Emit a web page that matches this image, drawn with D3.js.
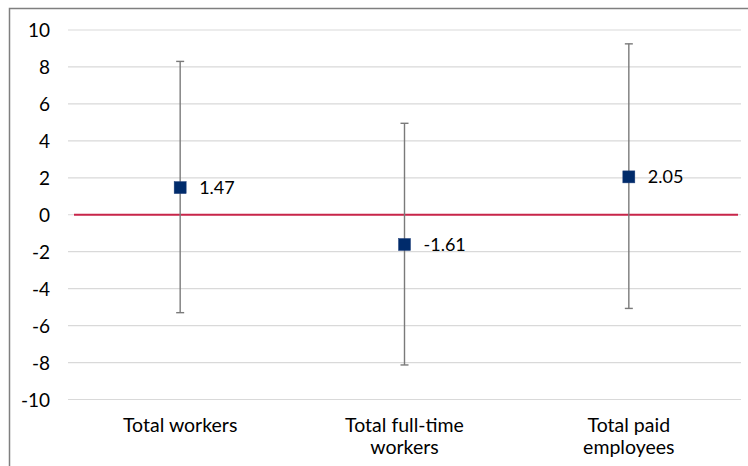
<!DOCTYPE html>
<html>
<head>
<meta charset="utf-8">
<script src="https://cdn.jsdelivr.net/npm/d3@7"></script>
<style>
  html, body { margin: 0; padding: 0; background: #fff; }
  svg { display: block; }
  text { font-family: "Lato", "Open Sans", sans-serif; fill: #000; }
</style>
</head>
<body>
<svg id="chart" width="748" height="466"></svg>
<script>
// Estimated change (percent) with 95% confidence interval
const categories = [["Total workers"], ["Total full-time", "workers"], ["Total paid", "employees"]];
const estimates = [1.47, -1.61, 2.05];
const lowerBounds = [-5.3, -8.13, -5.07];
const upperBounds = [8.3, 4.95, 9.25];
const yTicks = [-10, -8, -6, -4, -2, 0, 2, 4, 6, 8, 10];

const W = 748, H = 466;
const plot = { left: 68, right: 741, top: 30, bottom: 399.5 };

// plain hyphen for negatives
const fmtTick = d => String(d);
const fmtValue = d => d.toFixed(2);

const svg = d3.select("#chart");

// outer frame (top and left edges visible)
svg.append("path")
  .attr("d", `M9.5,${H} V8.5 H${W}`)
  .attr("fill", "none")
  .attr("stroke", "#7f7f7f")
  .attr("stroke-width", 1.5);

const x = d3.scaleBand()
  .domain(d3.range(categories.length))
  .range([plot.left, plot.right]);

const y = d3.scaleLinear()
  .domain([-10, 10])
  .range([plot.bottom, plot.top]);

// horizontal gridlines
svg.append("g")
  .selectAll("line")
  .data(yTicks)
  .join("line")
  .attr("x1", plot.left)
  .attr("x2", plot.right)
  .attr("y1", d => y(d))
  .attr("y2", d => y(d))
  .attr("stroke", "#d9d9d9")
  .attr("stroke-width", 1.2);

// y axis labels
const yAxis = d3.axisLeft(y).tickValues(yTicks).tickSize(0).tickPadding(0)
  .tickFormat(fmtTick);
const gy = svg.append("g")
  .attr("transform", `translate(50,0)`)
  .call(yAxis);
gy.select(".domain").remove();
gy.selectAll("text")
  .attr("font-family", "Lato, 'Open Sans', sans-serif")
  .attr("font-size", 19)
  .attr("fill", "#000")
  .attr("dy", "0.36em");

// zero reference line
svg.append("line")
  .attr("x1", plot.left + 6)
  .attr("x2", plot.right - 3)
  .attr("y1", y(0))
  .attr("y2", y(0))
  .attr("stroke", "#c8254a")
  .attr("stroke-width", 1.8);

const cx = i => x(i) + x.bandwidth() / 2;

// confidence interval whiskers
const bars = svg.append("g")
  .selectAll("g")
  .data(estimates.map((v, i) => ({ v, i, lo: lowerBounds[i], hi: upperBounds[i] })))
  .join("g");

bars.append("line")
  .attr("x1", d => cx(d.i)).attr("x2", d => cx(d.i))
  .attr("y1", d => y(d.hi)).attr("y2", d => y(d.lo))
  .attr("stroke", "#7a7a7a").attr("stroke-width", 1.4);

bars.selectAll("line.cap")
  .data(d => [d.hi, d.lo].map(b => ({ b, i: d.i })))
  .join("line")
  .attr("class", "cap")
  .attr("x1", d => cx(d.i) - 4).attr("x2", d => cx(d.i) + 4)
  .attr("y1", d => y(d.b)).attr("y2", d => y(d.b))
  .attr("stroke", "#7a7a7a").attr("stroke-width", 1.4);

// point estimates
bars.append("rect")
  .attr("x", d => cx(d.i) - 6)
  .attr("y", d => y(d.v) - 6)
  .attr("width", 12)
  .attr("height", 12)
  .attr("fill", "#002b6b")
  .attr("stroke", "#1f3f7a")
  .attr("stroke-width", 0.5);

bars.append("text")
  .attr("x", d => cx(d.i) + 19)
  .attr("y", d => y(d.v))
  .attr("dy", "0.36em")
  .attr("font-size", 18)
  .text(d => fmtValue(d.v));

// category labels
const cat = svg.append("g")
  .selectAll("text")
  .data(categories)
  .join("text")
  .attr("text-anchor", "middle")
  .attr("font-size", 19.5)
  .attr("x", (d, i) => cx(i))
  .attr("y", 432);

cat.selectAll("tspan")
  .data(d => d)
  .join("tspan")
  .attr("x", function() { return d3.select(this.parentNode).attr("x"); })
  .attr("dy", (d, j) => j === 0 ? 0 : 22)
  .text(d => d);
</script>
</body>
</html>
